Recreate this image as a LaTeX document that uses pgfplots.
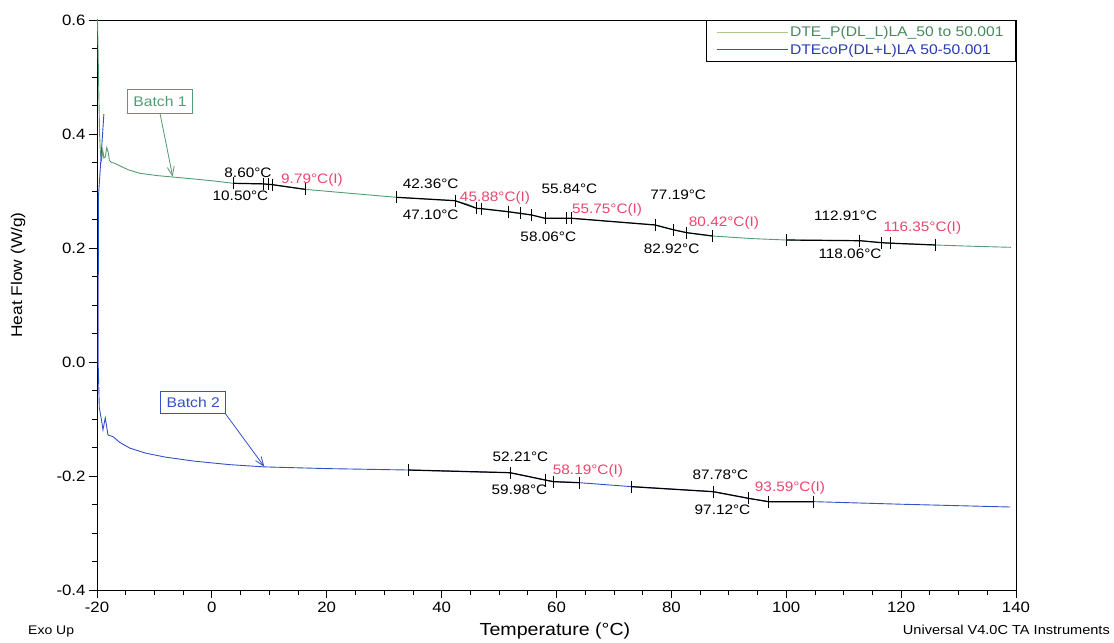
\documentclass[border=0pt]{standalone}
\usepackage{fontspec}
\setmainfont{Liberation Sans}[FakeStretch=1.12]
\usepackage{pgfplots}
\pgfplotsset{compat=1.18}
\usetikzlibrary{arrows.meta}
\definecolor{bgreen}{RGB}{85,155,115}
\definecolor{bblue}{RGB}{50,80,200}
\definecolor{lgreen}{RGB}{70,140,95}
\definecolor{lblue}{RGB}{40,60,180}
\definecolor{lsample}{RGB}{175,200,140}
\definecolor{pinkl}{RGB}{235,70,110}
\newcommand{\ann}{\fontsize{13.7}{16}\selectfont}
\begin{document}
\begin{tikzpicture}
\begin{axis}[name=ax, scale only axis, width=919pt, height=570pt,
  xmin=-20, xmax=140, ymin=-0.4, ymax=0.6,
  xtick={-20,0,20,40,60,80,100,120,140},
  ytick={-0.4,-0.2,0,0.2,0.4,0.6},
  minor x tick num=3, minor y tick num=3,
  tick align=outside, xtick pos=left, ytick pos=left,
  major tick length=8pt, minor tick length=5pt,
  axis line style={line width=0.8pt},
  every tick/.style={black, line width=0.8pt},
  /pgf/number format/assume math mode=true,
  ticklabel style={font=\fontsize{15}{18}\selectfont},
  yticklabel style={/pgf/number format/.cd, fixed, fixed zerofill, precision=1},
  xticklabel style={/pgf/number format/.cd, fixed, precision=0},
  legend style={at={(1,1)}, anchor=north east, draw=black, line width=0.8pt,
    font=\fontsize{14}{16}\selectfont, inner xsep=10pt, inner ysep=4pt,
    row sep=2pt},
  legend cell align=left,
  legend image code/.code={\draw[#1] (0pt,0pt) -- (61pt,0pt); \path (0pt,0pt) -- (71pt,0pt);},
]
% Batch 1 (green)
\addplot[color=bgreen, line width=0.9pt, legend image post style={color=lsample, line width=1pt}] coordinates {
(-19.95,0.62) (-19.55,0.40) (-19.4,0.365) (-19.2,0.354) (-19.0,0.372) (-18.8,0.358)
(-18.55,0.360) (-18.3,0.376) (-18.05,0.368) (-17.85,0.354) (-17.5,0.350) (-17.0,0.349)
(-16.0,0.344) (-14.5,0.337) (-12.5,0.331) (-9.5,0.327) (-6.8,0.3245) (-3,0.321)
(0,0.318) (3.73,0.3135) (8.90,0.3125) (10.47,0.3112) (16.21,0.3029) (24,0.296)
(32.18,0.2889) (42.33,0.2830) (44.5,0.277) (46.10,0.2696) (51.55,0.2637) (55.68,0.2579)
(58.0,0.2521) (62.64,0.2521) (77.15,0.2404) (80.33,0.2320) (82.66,0.2269) (87.12,0.2211)
(94,0.2165) (100.07,0.2140) (112.83,0.2128) (116.49,0.2094) (118.06,0.2085) (125.9,0.2053)
(132,0.2032) (139.1,0.2012)
};
\addlegendentry{\textcolor{lgreen}{DTE\_P(DL\_L)LA\_50 to 50.001}}
% Batch 2 (blue)
\addplot[color=bblue, line width=0.9pt] coordinates {
(-18.8,0.435) (-19.75,0.29) (-19.8,0.0) (-19.6,-0.08) (-19.13,-0.107) (-18.96,-0.119)
(-18.56,-0.098) (-18.09,-0.128) (-17.21,-0.131) (-16.05,-0.141) (-14.3,-0.151)
(-11.5,-0.160) (-8,-0.167) (-3,-0.174) (3,-0.180) (9.1,-0.184) (20,-0.187)
(34.2,-0.1895) (51.9,-0.1942) (55,-0.2005) (58.0,-0.2070) (59.44,-0.2099) (63.97,-0.2117)
(73.09,-0.2187) (87.29,-0.2275) (93.39,-0.2391) (96.87,-0.2450) (104.7,-0.2450)
(120,-0.2495) (139,-0.2544)
};
\addlegendentry{\textcolor{lblue}{DTEcoP(DL+L)LA 50-50.001}}
% analysis overlays (black) with markers
\addplot[forget plot, black, line width=1.2pt, mark=|, mark size=6pt, mark options={line width=0.9pt}] coordinates {
(3.73,0.3135) (8.90,0.3125) (9.77,0.3117) (10.47,0.3112) (16.21,0.3029)};
\addplot[forget plot, black, line width=1.2pt, mark=|, mark size=6pt, mark options={line width=0.9pt}] coordinates {
(32.18,0.2889) (42.33,0.2830) (46.10,0.2696) (46.97,0.2690) (51.55,0.2637) (53.64,0.2608)
(55.68,0.2579) (58.0,0.2521) (61.77,0.2521) (62.64,0.2521) (77.15,0.2404) (80.33,0.2320)
(82.66,0.2269) (87.12,0.2211)};
\addplot[forget plot, black, line width=1.2pt, mark=|, mark size=6pt, mark options={line width=0.9pt}] coordinates {
(100.07,0.2140) (112.83,0.2128) (116.49,0.2094) (118.06,0.2085) (125.9,0.2053)};
\addplot[forget plot, black, line width=1.2pt, mark=|, mark size=6pt, mark options={line width=0.9pt}] coordinates {
(34.2,-0.1895) (51.9,-0.1942) (58.0,-0.2070) (59.44,-0.2099) (63.97,-0.2117)};
\addplot[forget plot, black, line width=1.2pt, mark=|, mark size=6pt, mark options={line width=0.9pt}] coordinates {
(73.09,-0.2187) (87.29,-0.2275) (93.39,-0.2391) (96.87,-0.2450) (104.7,-0.2450)};
% labels batch 1
\node[font=\ann] at (axis cs:6.29,0.3316) {8.60°C};
\node[font=\ann] at (axis cs:4.98,0.2912) {10.50°C};
\node[font=\ann, text=pinkl] at (axis cs:17.43,0.3193) {9.79°C(I)};
\node[font=\ann] at (axis cs:38.1,0.3135) {42.36°C};
\node[font=\ann] at (axis cs:38.1,0.258) {47.10°C};
\node[font=\ann, text=pinkl] at (axis cs:49.3,0.2886) {45.88°C(I)};
\node[font=\ann] at (axis cs:62.26,0.3047) {55.84°C};
\node[font=\ann] at (axis cs:58.57,0.2199) {58.06°C};
\node[font=\ann, text=pinkl] at (axis cs:68.8,0.2667) {55.75°C(I)};
\node[font=\ann] at (axis cs:81.2,0.293) {77.19°C};
\node[font=\ann] at (axis cs:80.05,0.1995) {82.92°C};
\node[font=\ann, text=pinkl] at (axis cs:89.16,0.2433) {80.42°C(I)};
\node[font=\ann] at (axis cs:110.35,0.2561) {112.91°C};
\node[font=\ann] at (axis cs:111.1,0.1895) {118.06°C};
\node[font=\ann, text=pinkl] at (axis cs:123.7,0.2345) {116.35°C(I)};
% labels batch 2
\node[font=\ann] at (axis cs:53.73,-0.1661) {52.21°C};
\node[font=\ann] at (axis cs:53.56,-0.2246) {59.98°C};
\node[font=\ann, text=pinkl] at (axis cs:65.48,-0.191) {58.19°C(I)};
\node[font=\ann] at (axis cs:88.55,-0.198) {87.78°C};
\node[font=\ann] at (axis cs:88.9,-0.2596) {97.12°C};
\node[font=\ann, text=pinkl] at (axis cs:100.65,-0.2202) {93.59°C(I)};
% batch boxes and arrows
\node[draw=bgreen, text=bgreen, line width=0.8pt, minimum width=65pt, minimum height=24pt, inner sep=0pt, font=\fontsize{14}{16}\selectfont] at (axis cs:-9.03,0.4574) {Batch 1};
\draw[bgreen, line width=0.8pt, -{Straight Barb[length=9pt,width=7pt]}] (axis cs:-9.03,0.4363) -- (axis cs:-6.82,0.325);
\node[draw=bblue, text=bblue, line width=0.8pt, minimum width=65pt, minimum height=22pt, inner sep=0pt, font=\fontsize{14}{16}\selectfont] at (axis cs:-3.24,-0.0716) {Batch 2};
\draw[bblue, line width=0.8pt, -{Straight Barb[length=9pt,width=7pt]}] (axis cs:2.40,-0.0912) -- (axis cs:9.13,-0.1837);
\end{axis}
\node[rotate=90, font=\fontsize{15.5}{18}\selectfont] at ([xshift=-79pt,yshift=315pt]ax.south west) {Heat Flow (W/g)};
\node[anchor=base, font=\fontsize{17.5}{20}\selectfont] at ([xshift=458pt,yshift=-45pt]ax.south west) {Temperature (°C)};
\node[anchor=base west, inner sep=0pt, font=\fontsize{12.5}{15}\selectfont] at ([xshift=-69pt,yshift=-44pt]ax.south west) {Exo Up};
\node[anchor=base east, inner sep=0pt, font=\fontsize{13}{15}\selectfont] at ([xshift=94pt,yshift=-44pt]ax.south east) {Universal V4.0C TA Instruments};
\pgfresetboundingbox
\path ([xshift=-97pt,yshift=-52pt]ax.south west) rectangle ([xshift=98pt,yshift=20pt]ax.north east);
\end{tikzpicture}
\end{document}
